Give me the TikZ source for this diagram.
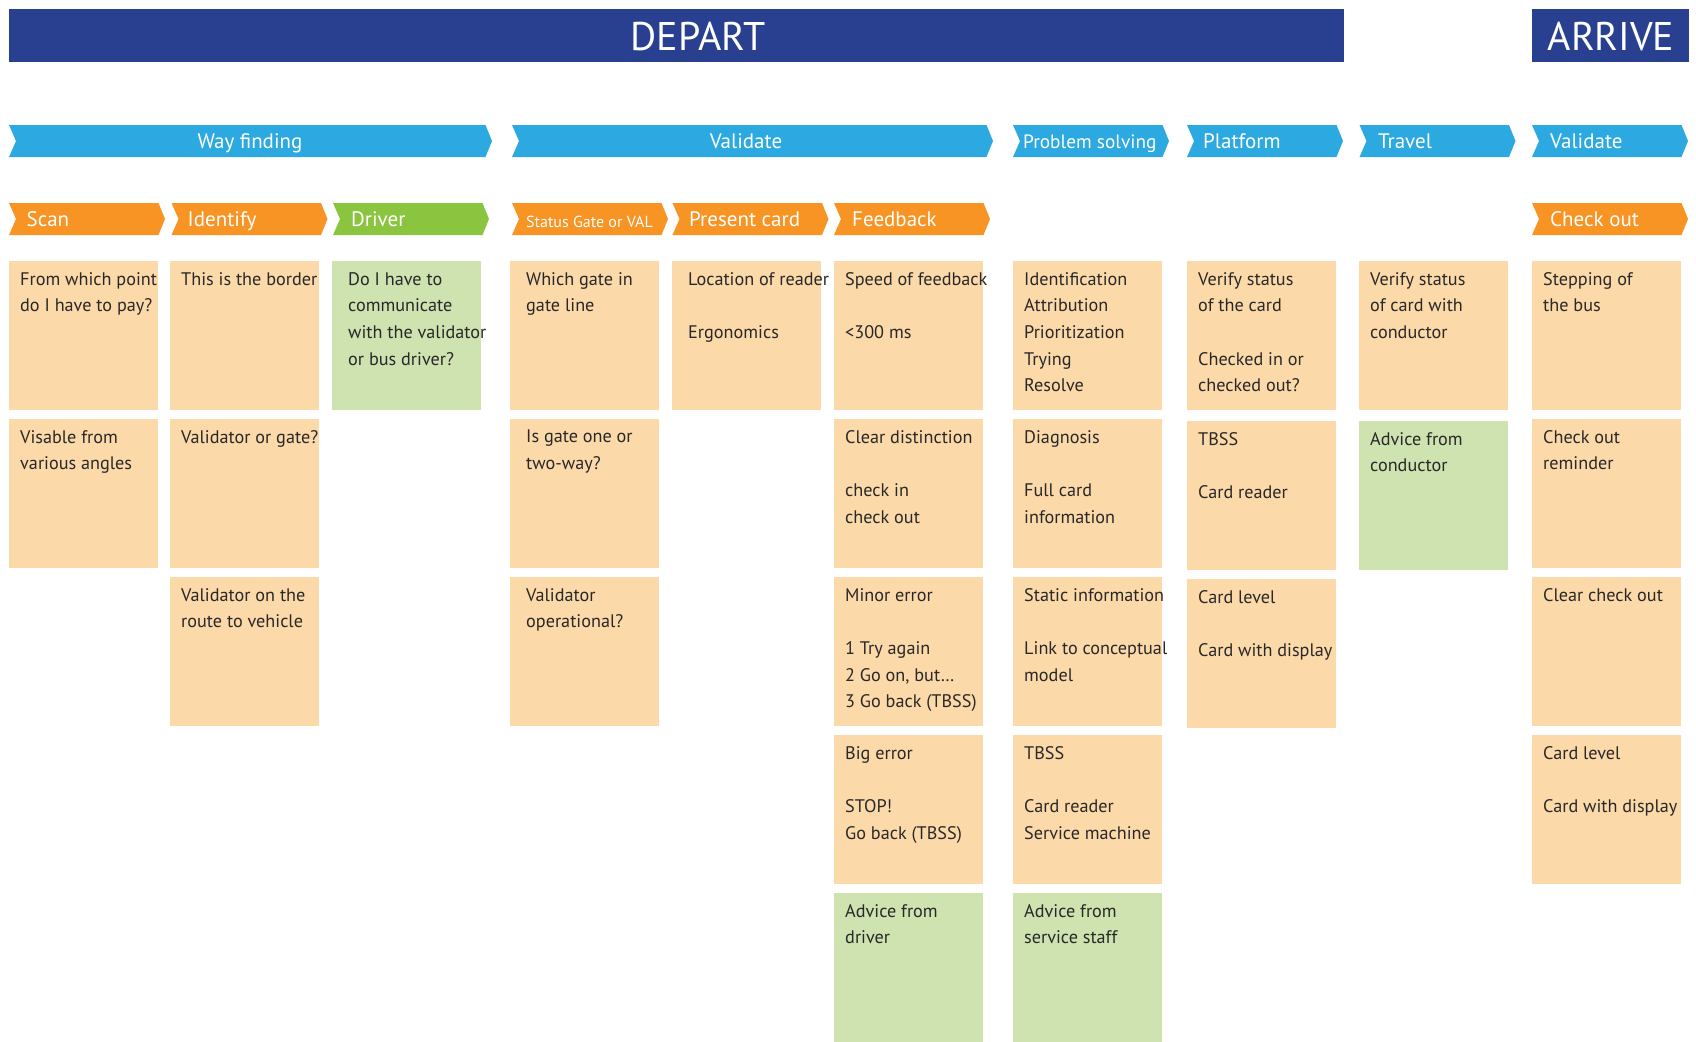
\documentclass[tikz,border=0pt]{standalone}
\usepackage{fontspec}
\setmainfont{PT Sans}
\usetikzlibrary{positioning}
\definecolor{navy}{RGB}{41,63,144}
\definecolor{skyblue}{RGB}{44,169,225}
\definecolor{amber}{RGB}{247,148,35}
\definecolor{grass}{RGB}{139,197,63}
\definecolor{peach}{RGB}{252,217,169}
\definecolor{leaf}{RGB}{207,227,176}
\definecolor{ink}{RGB}{40,40,40}

\begin{document}
\begin{tikzpicture}[x=1pt, y=-1pt,
        banner/.style={text=white, inner sep=0pt, font=\fontsize{40}{44}\selectfont},
        steptext/.style={text=white, inner sep=0pt, font=\fontsize{21}{24}\selectfont},
        smallstep/.style={text=white, inner sep=0pt, font=\fontsize{16}{18}\selectfont},
        card/.style={fill=peach, minimum width=149pt, minimum height=149pt, inner sep=0pt, outer sep=0pt},
        greencard/.style={card, fill=leaf},
        cardtext/.style={anchor=north west, align=left, inner xsep=11pt, inner ysep=11pt,
            text=ink, font=\fontsize{18.2}{26.7}\selectfont}]
        \useasboundingbox (0,0) rectangle (1696,1041);

        % Phase banners
        \fill[navy] (9,9) rectangle (1344,62.5);
        \fill[navy] (1532,9) rectangle (1689,62.5);
        \node (depart) [banner, anchor=base] at (698,50.5) {DEPART};
        \node (arrive) [banner, anchor=base] at (1611,50.5) {ARRIVE};

        % Blue steps
        \fill[skyblue] (9,125) -- ++(476.5,0) -- ++(6.5,16) -- ++(-6.5,16) -- ++(-476.5,0) -- ++(7,-16) -- cycle;
        \fill[skyblue] (512,125) -- ++(474.5,0) -- ++(6.5,16) -- ++(-6.5,16) -- ++(-474.5,0) -- ++(7,-16) -- cycle;
        \fill[skyblue] (1013,125) -- ++(149.5,0) -- ++(6.5,16) -- ++(-6.5,16) -- ++(-149.5,0) -- ++(7,-16) -- cycle;
        \fill[skyblue] (1187,125) -- ++(149.5,0) -- ++(6.5,16) -- ++(-6.5,16) -- ++(-149.5,0) -- ++(7,-16) -- cycle;
        \fill[skyblue] (1359.5,125) -- ++(149.5,0) -- ++(6.5,16) -- ++(-6.5,16) -- ++(-149.5,0) -- ++(7,-16) -- cycle;
        \fill[skyblue] (1532,125) -- ++(149.5,0) -- ++(6.5,16) -- ++(-6.5,16) -- ++(-149.5,0) -- ++(7,-16) -- cycle;
        \node (wayfinding) [steptext, anchor=base] at (250,148.5) {Way finding};
        \node (validate) [steptext, anchor=base] at (746,148) {Validate};
        \node (problem) [steptext, anchor=base west, font=\fontsize{19.3}{24}\selectfont] at (1023,148) {Problem solving};
        \node (platform) [steptext, anchor=base west] at (1203,148) {Platform};
        \node (travel) [steptext, anchor=base west] at (1378,148) {Travel};
        \node (validatearr) [steptext, anchor=base west] at (1550,148) {Validate};

        % Orange steps
        \fill[amber] (9,203) -- ++(149.5,0) -- ++(6.5,16) -- ++(-6.5,16) -- ++(-149.5,0) -- ++(7,-16) -- cycle;
        \fill[amber] (171.5,203) -- ++(149.5,0) -- ++(6.5,16) -- ++(-6.5,16) -- ++(-149.5,0) -- ++(7,-16) -- cycle;
        \fill[grass] (333,203) -- ++(149.5,0) -- ++(6.5,16) -- ++(-6.5,16) -- ++(-149.5,0) -- ++(7,-16) -- cycle;
        \fill[amber] (512,203) -- ++(149.5,0) -- ++(6.5,16) -- ++(-6.5,16) -- ++(-149.5,0) -- ++(7,-16) -- cycle;
        \fill[amber] (672.5,203) -- ++(149.5,0) -- ++(6.5,16) -- ++(-6.5,16) -- ++(-149.5,0) -- ++(7,-16) -- cycle;
        \fill[amber] (834,203) -- ++(149.5,0) -- ++(6.5,16) -- ++(-6.5,16) -- ++(-149.5,0) -- ++(7,-16) -- cycle;
        \fill[amber] (1532,203) -- ++(149.5,0) -- ++(6.5,16) -- ++(-6.5,16) -- ++(-149.5,0) -- ++(7,-16) -- cycle;
        \node (scan) [steptext, anchor=base west] at (26.5,226.5) {Scan};
        \node (identify) [steptext, anchor=base west] at (187.5,226.5) {Identify};
        \node (driver) [steptext, anchor=base west] at (351,226.5) {Driver};
        \node (status) [smallstep, anchor=base west] at (526,227) {Status Gate or VAL};
        \node (present) [steptext, anchor=base west] at (689,226.5) {Present card};
        \node (feedback) [steptext, anchor=base west] at (852,226.5) {Feedback};
        \node (checkout) [steptext, anchor=base west] at (1550,226.5) {Check out};

        % Cards
        \node (scanA) [card, anchor=north west, label={[cardtext]north west:From which point\\do I have to pay?}] at (9,261) {};
        \node (scanB) [card, below=9pt of scanA, label={[cardtext]north west:Visable from\\various angles}] {};

        \node (identA) [card, anchor=north west, label={[cardtext]north west:This is the border}] at (170,261) {};
        \node (identB) [card, below=9pt of identA, label={[cardtext]north west:Validator or gate?}] {};
        \node (identC) [card, below=9pt of identB, label={[cardtext]north west:Validator on the\\route to vehicle}] {};

        \node (driverA) [greencard, anchor=north west, label={[cardtext, xshift=5pt]north west:Do I have to\\communicate\\with the validator\\or bus driver?}] at (332,261) {};

        \node (statusA) [card, anchor=north west, label={[cardtext, xshift=5pt]north west:Which gate in\\gate line}] at (510,261) {};
        \node (statusB) [card, below=9pt of statusA, label={[cardtext, xshift=5pt]north west:Is gate one or\\two-way?}] {};
        \node (statusC) [card, below=9pt of statusB, label={[cardtext, xshift=5pt]north west:Validator\\operational?}] {};

        \node (presentA) [card, anchor=north west, label={[cardtext, xshift=5pt]north west:Location of reader\\[26.7pt]Ergonomics}] at (672,261) {};

        \node (feedA) [card, anchor=north west, label={[cardtext]north west:Speed of feedback\\[26.7pt]<300 ms}] at (834,261) {};
        \node (feedB) [card, below=9pt of feedA, label={[cardtext]north west:Clear distinction\\[26.7pt]check in\\check out}] {};
        \node (feedC) [card, below=9pt of feedB, label={[cardtext]north west:Minor error\\[26.7pt]1 Try again\\2 Go on, but…\\3 Go back (TBSS)}] {};
        \node (feedD) [card, below=9pt of feedC, label={[cardtext]north west:Big error\\[26.7pt]STOP!\\Go back (TBSS)}] {};
        \node (feedE) [greencard, below=9pt of feedD, label={[cardtext]north west:Advice from\\driver}] {};

        \node (probA) [card, anchor=north west, label={[cardtext]north west:Identification\\Attribution\\Prioritization\\Trying\\Resolve}] at (1013,261) {};
        \node (probB) [card, below=9pt of probA, label={[cardtext]north west:Diagnosis\\[26.7pt]Full card\\information}] {};
        \node (probC) [card, below=9pt of probB, label={[cardtext]north west:Static information\\[26.7pt]Link to conceptual\\model}] {};
        \node (probD) [card, below=9pt of probC, label={[cardtext]north west:TBSS\\[26.7pt]Card reader\\Service machine}] {};
        \node (probE) [greencard, below=9pt of probD, label={[cardtext]north west:Advice from\\service staff}] {};

        \node (platA) [card, anchor=north west, label={[cardtext]north west:Verify status\\of the card\\[26.7pt]Checked in or\\checked out?}] at (1187,261) {};
        \node (platB) [card, below=11pt of platA, label={[cardtext]north west:TBSS\\[26.7pt]Card reader}] {};
        \node (platC) [card, below=9pt of platB, label={[cardtext]north west:Card level\\[26.7pt]Card with display}] {};

        \node (travelA) [card, anchor=north west, label={[cardtext]north west:Verify status\\of card with\\conductor}] at (1359,261) {};
        \node (travelB) [greencard, below=11pt of travelA, label={[cardtext]north west:Advice from\\conductor}] {};

        \node (checkA) [card, anchor=north west, label={[cardtext]north west:Stepping of\\the bus}] at (1532,261) {};
        \node (checkB) [card, below=9pt of checkA, label={[cardtext]north west:Check out\\reminder}] {};
        \node (checkC) [card, below=9pt of checkB, label={[cardtext]north west:Clear check out}] {};
        \node (checkD) [card, below=9pt of checkC, label={[cardtext]north west:Card level\\[26.7pt]Card with display}] {};
\end{tikzpicture}
\end{document}
